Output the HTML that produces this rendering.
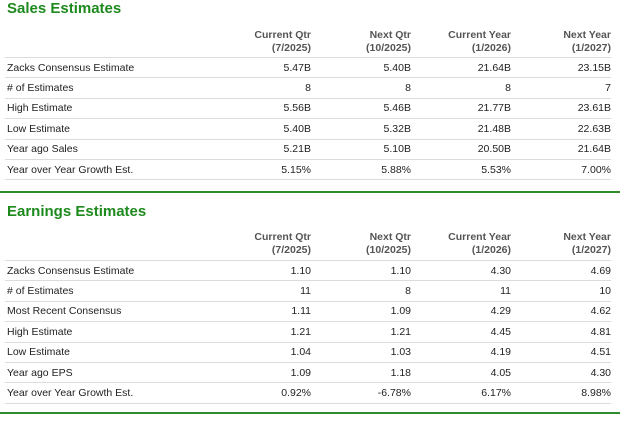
<!DOCTYPE html>
<html><head><style>
body{margin:0;width:620px;height:422px;background:#fff;font-family:"Liberation Sans",Arial,sans-serif;position:relative;overflow:hidden;color:#222}
h2{position:absolute;left:7px;margin:0;font-size:15px;font-weight:bold;color:#1e8a1e}
table{position:absolute;left:5px;border-collapse:collapse;font-size:10.5px}
td,th{padding:0;text-align:right;border-bottom:1px solid #dcdcdc;white-space:nowrap}
th{font-weight:bold;color:#555;line-height:13px;vertical-align:bottom;padding-bottom:2px}
td{height:19.4px}
td:first-child,th:first-child{text-align:left;width:204px;padding-left:2px}
.c{width:100px}
.g{position:absolute;left:0;width:620px;height:2px;background:#2e8b2e}
</style></head><body>
<h2 style="top:0px">Sales Estimates</h2>
<table style="top:29px">
<tr><th></th><th class="c">Current Qtr<br>(7/2025)</th><th class="c">Next Qtr<br>(10/2025)</th><th class="c">Current Year<br>(1/2026)</th><th class="c">Next Year<br>(1/2027)</th></tr>
<tr><td>Zacks Consensus Estimate</td><td>5.47B</td><td>5.40B</td><td>21.64B</td><td>23.15B</td></tr>
<tr><td># of Estimates</td><td>8</td><td>8</td><td>8</td><td>7</td></tr>
<tr><td>High Estimate</td><td>5.56B</td><td>5.46B</td><td>21.77B</td><td>23.61B</td></tr>
<tr><td>Low Estimate</td><td>5.40B</td><td>5.32B</td><td>21.48B</td><td>22.63B</td></tr>
<tr><td>Year ago Sales</td><td>5.21B</td><td>5.10B</td><td>20.50B</td><td>21.64B</td></tr>
<tr><td>Year over Year Growth Est.</td><td>5.15%</td><td>5.88%</td><td>5.53%</td><td>7.00%</td></tr>
</table>
<div class="g" style="top:191px"></div>
<h2 style="top:203px">Earnings Estimates</h2>
<table style="top:231px">
<tr><th style="padding-bottom:3px"></th><th class="c" style="padding-bottom:3px">Current Qtr<br>(7/2025)</th><th class="c" style="padding-bottom:3px">Next Qtr<br>(10/2025)</th><th class="c" style="padding-bottom:3px">Current Year<br>(1/2026)</th><th class="c" style="padding-bottom:3px">Next Year<br>(1/2027)</th></tr>
<tr><td>Zacks Consensus Estimate</td><td>1.10</td><td>1.10</td><td>4.30</td><td>4.69</td></tr>
<tr><td># of Estimates</td><td>11</td><td>8</td><td>11</td><td>10</td></tr>
<tr><td>Most Recent Consensus</td><td>1.11</td><td>1.09</td><td>4.29</td><td>4.62</td></tr>
<tr><td>High Estimate</td><td>1.21</td><td>1.21</td><td>4.45</td><td>4.81</td></tr>
<tr><td>Low Estimate</td><td>1.04</td><td>1.03</td><td>4.19</td><td>4.51</td></tr>
<tr><td>Year ago EPS</td><td>1.09</td><td>1.18</td><td>4.05</td><td>4.30</td></tr>
<tr><td>Year over Year Growth Est.</td><td>0.92%</td><td>-6.78%</td><td>6.17%</td><td>8.98%</td></tr>
</table>
<div class="g" style="top:412px"></div>
</body></html>
